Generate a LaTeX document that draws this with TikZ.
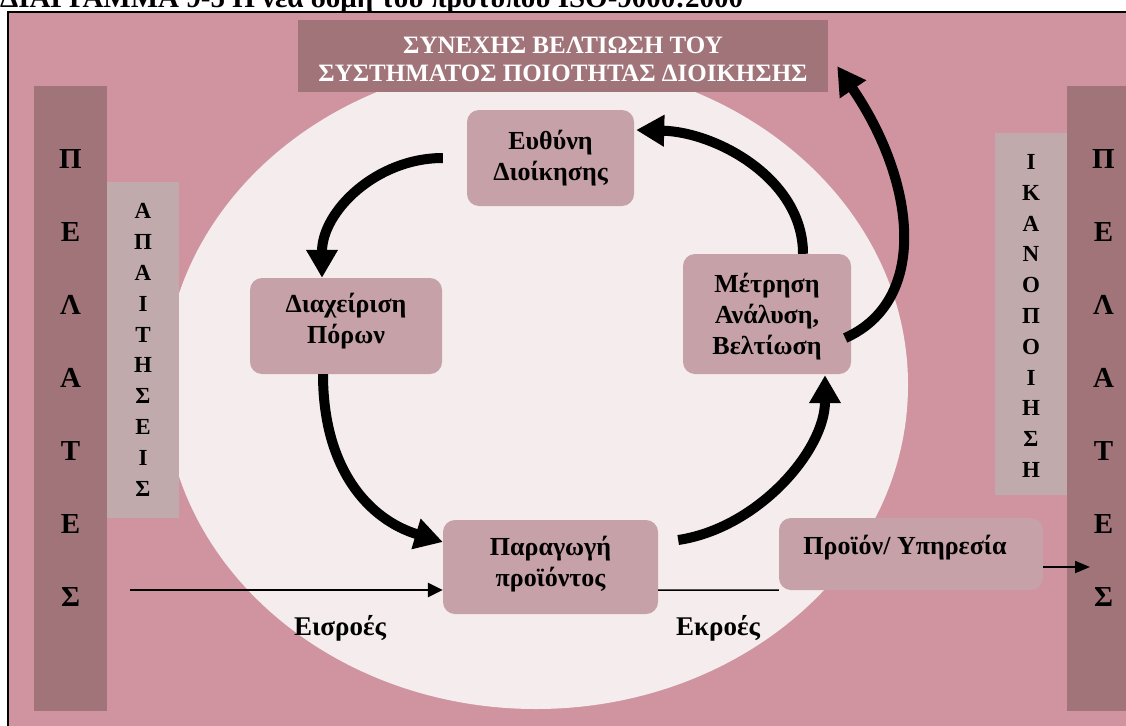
\documentclass[tikz,border=0pt]{standalone}
\usepackage{fontspec}
\setmainfont{Liberation Serif}
\usetikzlibrary{arrows.meta,calc}
\definecolor{bgpink}{HTML}{D094A0}
\definecolor{mauve}{HTML}{A17479}
\definecolor{greybox}{HTML}{C0AAAC}
\definecolor{procbox}{HTML}{C6A1A7}
\definecolor{ellfill}{HTML}{F4ECED}
\begin{document}
\begin{tikzpicture}[x=1pt,y=-1pt,
  proc/.style={rectangle, rounded corners=12pt, fill=procbox, inner sep=0pt},
  ptext/.style={align=center, font=\bfseries\fontsize{26}{31}\selectfont},
  col/.style={rectangle, fill=mauve, inner sep=0pt, minimum width=73pt, minimum height=625pt},
  colL/.style={align=center, font=\bfseries\fontsize{29}{73}\selectfont},
  gbox/.style={rectangle, fill=greybox, inner sep=0pt, minimum width=72pt},
  gL/.style={align=center, font=\bfseries\fontsize{23}{30.8}\selectfont},
  bigarrow/.style={line width=10pt, -{Triangle[length=28pt,width=30pt]}},
  lbl/.style={font=\bfseries\fontsize{27}{30}\selectfont}]
\useasboundingbox (0,0) rectangle (1126,725);
\clip (0,0) rectangle (1126,725);
% title (cut off)
\node[anchor=base west, inner sep=0pt, font=\bfseries\fontsize{29}{29}\selectfont] (title) at (0,8) {ΔΙΑΓΡΑΜΜΑ 9-5 Η νέα δομή του προτύπου ISO-9000:2000};
% frame
\draw[fill=bgpink, line width=1.5pt] (8,12) rectangle (1140,740);
% ellipse
\fill[ellfill] (536,385) ellipse [x radius=372, y radius=324];
% columns
\node[col, label={[colL, yshift=21pt]center:Π\\Ε\\Λ\\Α\\Τ\\Ε\\Σ}] (pL) at (70.5,398.5) {};
\node[col, label={[colL, yshift=21pt]center:Π\\Ε\\Λ\\Α\\Τ\\Ε\\Σ}] (pR) at (1103.5,398.5) {};
\node[gbox, minimum height=336pt, label={[gL]center:Α\\Π\\Α\\Ι\\Τ\\Η\\Σ\\Ε\\Ι\\Σ}] (req) at (143,350) {};
\node[gbox, minimum height=362pt, label={[gL, yshift=-2pt]center:Ι\\Κ\\Α\\Ν\\Ο\\Π\\Ο\\Ι\\Η\\Σ\\Η}] (sat) at (1031,314) {};
% banner
\node[rectangle, fill=mauve, minimum width=530pt, minimum height=72pt, inner sep=0pt,
  label={[align=center, text=white, font=\bfseries\fontsize{25}{28}\selectfont, yshift=-3pt]center:ΣΥΝΕΧΗΣ ΒΕΛΤΙΩΣΗ ΤΟΥ\\ΣΥΣΤΗΜΑΤΟΣ ΠΟΙΟΤΗΤΑΣ ΔΙΟΙΚΗΣΗΣ}] (bn) at (563,56) {};
% process boxes
\node[proc, minimum width=167pt, minimum height=96pt, label={[ptext]center:Ευθύνη\\Διοίκησης}] (ev) at (550.5,158) {};
\node[proc, minimum width=192pt, minimum height=96pt, label={[ptext, yshift=5pt]center:Διαχείριση\\Πόρων}] (dp) at (346,326) {};
\node[proc, minimum width=215pt, minimum height=94pt, label={[ptext, yshift=3pt]center:Παραγωγή\\προϊόντος}] (pa) at (550.5,567) {};
\node[proc, minimum width=168pt, minimum height=120pt, label={[ptext, yshift=-3pt]center:Μέτρηση\\Ανάλυση,\\Βελτίωση}] (me) at (767,314) {};
\node[proc, minimum width=264pt, minimum height=72pt, label={[ptext, yshift=6pt, xshift=-6pt]center:Προϊόν/ Υπηρεσία}] (pr) at (911,554) {};
% labels
\node[lbl] (eis) at (340,628) {Εισροές};
\node[lbl] (ekr) at (718,628) {Εκροές};
% big arrows
\draw[bigarrow] ($(ev.west)+(-24,0)$) .. controls +(-67,0) and +(0,-66) .. ($(dp.north)+(-24,0)$);
\draw[bigarrow] ($(dp.south)+(-23,0)$) .. controls +(0,96) and +(-73,-22) .. ($(pa.west)+(0,-25)$);
\draw[bigarrow] ($(pa.east)+(20,-27)$) .. controls +(80,-12) and +(0,75) .. ($(me.south)+(58,1)$);
\draw[bigarrow] ($(me.north)+(36,0)$) .. controls +(0,-75) and +(80,2) .. ($(ev.east)+(2,-28)$);
\draw[bigarrow] ($(me.east)+(-6,24)$) .. controls +(85,-38) and +(78,114) .. ($(bn.south east)+(9,-26)$);
% thin lines
\coordinate (inL) at (130,590);
\coordinate (outR) at (1090,567);
\draw[line width=2.5pt, -{Triangle[length=15pt,width=14pt]}] (inL) -- (inL -| pa.west);
\draw[line width=1.5pt] (pa.east |- inL) -- (pr.south west);
\draw[line width=2pt, -{Triangle[length=15pt,width=12pt]}] (pr.east |- outR) -- (outR);
\end{tikzpicture}
\end{document}
